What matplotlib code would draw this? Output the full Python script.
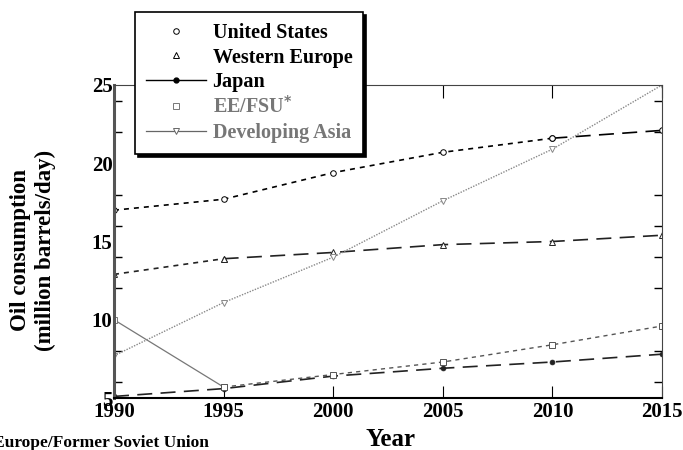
import numpy as np
import matplotlib.pyplot as plt
from matplotlib.lines import Line2D
from matplotlib.ticker import MultipleLocator, FixedLocator

plt.rcParams['font.family'] = ['Liberation Serif', 'DejaVu Serif']
plt.rcParams['font.weight'] = 'bold'

years = [1990, 1995, 2000, 2005, 2010, 2015]
us = [17.0, 17.7, 19.4, 20.7, 21.6, 22.1]
w_europe = [12.9, 13.9, 14.3, 14.8, 15.0, 15.4]
japan = [5.1, 5.6, 6.4, 6.9, 7.3, 7.8]
ee_fsu = [10.0, 5.7, 6.5, 7.3, 8.4, 9.6]
dev_asia = [7.7, 11.1, 14.0, 17.6, 20.9, 25.0]
labels = ['United States', 'Western Europe', 'Japan', 'EE/FSU$^{*}$', 'Developing Asia']

fig = plt.figure(figsize=(6.83, 4.5), dpi=100)
ax = fig.add_axes([114/683, 1-398/450, (662-114)/683, (398-85)/450])

short = (0, (3, 3))
long_ = (0, (9, 5))

# united states: short dashes then long dashes
ax.plot(years[:5], us[:5], color='black', lw=1.2, ls=short, marker='o', ms=4, mfc='white', mew=0.7)
ax.plot(years[4:], us[4:], color='black', lw=1.2, ls=long_, marker='o', ms=4, mfc='white', mew=0.7)
# western europe
ax.plot(years[:2], w_europe[:2], color='#222222', lw=1.2, ls=short, marker='^', ms=5, mfc='white', mew=0.7)
ax.plot(years[1:], w_europe[1:], color='#222222', lw=1.2, ls=long_, marker='^', ms=5, mfc='white', mew=0.7)
# japan
ax.plot(years, japan, color='#222222', lw=1.2, ls=long_, marker='o', ms=3.5, mew=0.5)
# ee/fsu
ax.plot(years[:2], ee_fsu[:2], color='#777777', lw=0.9, ls='-', marker='s', ms=4.5, mfc='white', mew=0.7)
ax.plot(years[1:], ee_fsu[1:], color='#555555', lw=1.0, ls=short, marker='s', ms=4.5, mfc='white', mew=0.7)
# developing asia
ax.plot(years, dev_asia, color='#888888', lw=1.0, ls=(0, (1, 1)), marker='v', ms=5, mfc='white', mew=0.7)

ax.set_xlim(1990, 2015)
ax.set_ylim(5, 25)
ax.xaxis.set_major_locator(MultipleLocator(5))
ax.yaxis.set_major_locator(MultipleLocator(5))
ax.yaxis.set_minor_locator(FixedLocator([6, 8, 12, 14, 16, 18, 22, 24]))
ax.tick_params(axis='x', which='major', direction='in', length=9, top=True, pad=3, labelsize=15)
ax.tick_params(axis='y', which='major', direction='in', length=0, right=True, pad=1, labelsize=15)
ax.tick_params(axis='y', which='minor', direction='in', length=6, right=True, width=1)
for lab in ax.get_xticklabels() + ax.get_yticklabels():
    lab.set_fontweight('bold')

ax.spines['left'].set_linewidth(2.2)
ax.spines['left'].set_color('#555555')
ax.spines['bottom'].set_linewidth(1.5)
ax.spines['top'].set_color('#444444')
ax.spines['right'].set_color('#444444')

fig.text(33/683, 1-250/450, 'Oil consumption\n(million barrels/day)', rotation=90,
         ha='center', va='center', fontsize=16.5, fontweight='bold', linespacing=1.25)
fig.text(390/683, 1-440/450, 'Year', ha='center', va='center', fontsize=18, fontweight='bold')
fig.text(209/683, 1-443/450, '*Eastern Europe/Former Soviet Union', ha='right', va='center',
         fontsize=12.5, fontweight='bold')

handles = [
    Line2D([], [], ls='none', color='black', marker='o', ms=4, mfc='white', mew=0.7),
    Line2D([], [], ls='none', color='black', marker='^', ms=5, mfc='white', mew=0.7),
    Line2D([], [], ls='-', lw=1.0, color='black', marker='o', ms=3.5),
    Line2D([], [], ls='none', color='#777777', marker='s', ms=4.5, mfc='white', mew=0.7),
    Line2D([], [], ls='-', lw=0.9, color='#666666', marker='v', ms=5, mfc='white', mew=0.7),
]
leg = fig.legend(handles, labels, loc='upper left', bbox_to_anchor=(135/683, 1-12/450),
                 frameon=True, fancybox=False, shadow={'color': 'black', 'alpha': 1.0},
                 edgecolor='black', framealpha=1, fontsize=14.5, handlelength=3.0,
                 labelspacing=0.22, borderpad=0.55, handletextpad=0.3, borderaxespad=0)
leg.get_frame().set_linewidth(1.2)
for txt, col in zip(leg.get_texts(), ['black', 'black', 'black', '#777777', '#777777']):
    txt.set_color(col)
    txt.set_fontweight('bold')

fig.savefig('out.png', dpi=100)
